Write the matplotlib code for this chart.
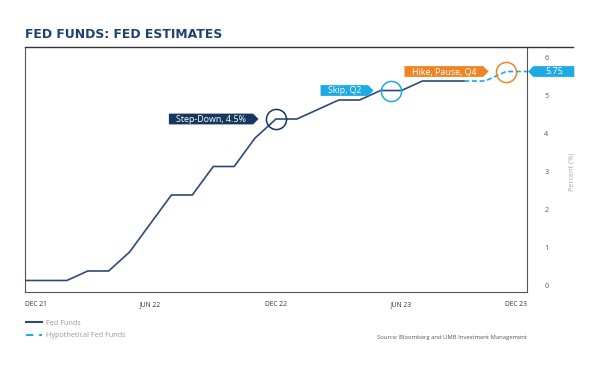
import matplotlib
matplotlib.use("Agg")
import matplotlib.pyplot as plt
from matplotlib.path import Path
from matplotlib.lines import Line2D

plt.rcParams['font.family'] = ['Open Sans', 'DejaVu Sans']

# months since DEC 21
months = list(range(0, 22))
fed_funds = [0.125, 0.125, 0.125, 0.375, 0.375, 0.875, 1.625, 2.375, 2.375,
             3.125, 3.125, 3.875, 4.375, 4.375, 4.625, 4.875, 4.875, 5.125,
             5.125, 5.375, 5.375, 5.375]
hyp_months = [21, 22, 23, 24]
hyp_funds = [5.375, 5.375, 5.625, 5.625]
last_label = "5.75"

tick_months = [0, 6, 12, 18, 24]
tick_labels = ["DEC 21", "JUN 22", "DEC 22", "JUN 23", "DEC 23"]
y_ticks = [0, 1, 2, 3, 4, 5, 6]

event_labels = ["Step-Down, 4.5%", "Skip, Q2", "Hike, Pause, Q4"]
event_x = [12, 17.5, 23]
event_y = [4.375, 5.125, 5.625]

navy = '#2c4a78'
dark_navy = '#17375e'
light_blue = '#1eaae3'
orange = '#ef8424'
event_colors = [dark_navy, light_blue, orange]


def tag_style(padx, pady, side):
    # label box with a pointed end
    def style(x0, y0, width, height, mutation_size):
        px = padx * mutation_size
        py = pady * mutation_size
        x0, x1 = x0 - px, x0 + width + px
        y0, y1 = y0 - py, y0 + height + py
        ym = (y0 + y1) / 2
        tip = (y1 - y0) / 2
        if side == 'right':
            verts = [(x0, y0), (x1, y0), (x1 + tip, ym), (x1, y1), (x0, y1), (x0, y0)]
        else:
            verts = [(x0, y0), (x1, y0), (x1, y1), (x0, y1), (x0 - tip, ym), (x0, y0)]
        return Path(verts, closed=True)
    return style


fig = plt.figure(figsize=(6, 3.67), dpi=100)
W, H = 600, 367
ax = fig.add_axes([25 / W, 1 - 292 / H, 502 / W, 245 / H])

ax.plot(months, fed_funds, color=navy, lw=1.2, solid_joinstyle='miter')
ax.plot(hyp_months, hyp_funds, color=light_blue, lw=1.2, dashes=(3, 1.6))

# event circles and tags
for lab, ex, ey, c in zip(event_labels, event_x, event_y, event_colors):
    ax.plot(ex, ey, 'o', ms=14.5, mfc='none', mec=c, mew=1.1)
    ax.annotate(lab, xy=(ex, ey), xytext=(-30, 0), textcoords='offset pixels',
                ha='right', va='center', color='white', fontsize=6.4,
                bbox=dict(boxstyle=tag_style(0.8, 0.1, 'right'), fc=c, ec='none'))

ax.annotate(last_label, xy=(hyp_months[-1], hyp_funds[-1]), xytext=(18, 0),
            textcoords='offset pixels', ha='left', va='center', color='white',
            fontsize=6.4, annotation_clip=False,
            bbox=dict(boxstyle=tag_style(1.3, 0.1, 'left'), fc=light_blue, ec='none'))

ax.set_xlim(0, 24)
ax.set_ylim(-0.178, 6.27)
ax.set_xticks(tick_months)
ax.set_xticklabels(tick_labels)
for i, t in enumerate(ax.get_xticklabels()):
    if i == 0:
        t.set_ha('left')
    elif i == len(tick_labels) - 1:
        t.set_ha('right')
ax.tick_params(axis='x', length=0, pad=6.5, labelsize=4.8, labelcolor='#333333')
ax.yaxis.tick_right()
ax.set_yticks(y_ticks)
ax.tick_params(axis='y', length=0, pad=12.5, labelsize=5.2, labelcolor='#555555')

for s in ['left', 'bottom', 'right']:
    ax.spines[s].set_color('#555555')
    ax.spines[s].set_linewidth(0.8)
ax.spines['top'].set_visible(False)
fig.add_artist(Line2D([25 / W, 573 / W], [1 - 47 / H, 1 - 47 / H],
                      color='#333333', lw=1.0))

fig.text(25 / W, 1 - 37.5 / H, "FED FUNDS: FED ESTIMATES", fontsize=8.9,
         fontweight='bold', color='#1d4272', va='baseline',
         family=['DejaVu Sans'])
fig.text(571.7 / W, 1 - 172 / H, "Percent (%)", rotation=90, fontsize=5.2,
         color='#aaaaaa', ha='center', va='center')

handles = [Line2D([], [], color=navy, lw=1.5),
           Line2D([], [], color=light_blue, lw=1.5, dashes=(3.5, 2.8))]
fig.legend(handles, ["Fed Funds", "Hypothetical Fed Funds"], loc='upper left',
           bbox_to_anchor=(19 / W, 1 - 313 / H), frameon=False, fontsize=5.2,
           handlelength=2.3, handletextpad=0.5, labelspacing=0.75, labelcolor='#999999')

fig.text(527 / W, 1 - 337.7 / H, "Source: Bloomberg and UMB Investment Management",
         fontsize=4.2, color='#555555', ha='right', va='center')

fig.savefig("out.png", dpi=100, facecolor='white')
